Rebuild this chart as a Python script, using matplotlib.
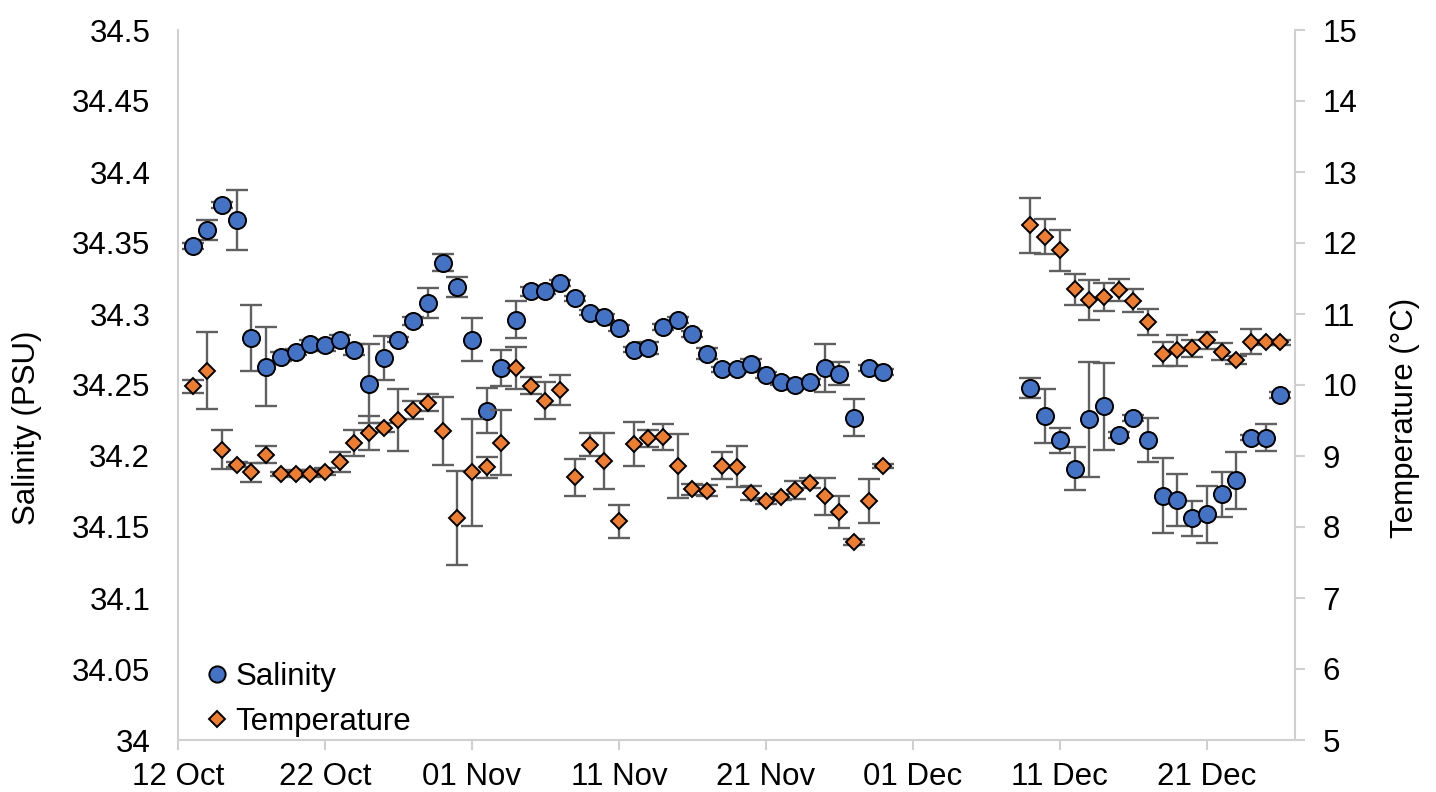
import numpy as np
import pandas as pd
import matplotlib
matplotlib.use("Agg")
import matplotlib.pyplot as plt
import matplotlib.dates as mdates
from matplotlib.ticker import FixedLocator, FuncFormatter

plt.rcParams['font.family'] = ['Liberation Sans', 'DejaVu Sans']

# Daily sampling: 13 Oct - 29 Nov and 9 Dec - 26 Dec
dates = list(pd.date_range("2019-10-13", "2019-11-29", freq="D")) + \
        list(pd.date_range("2019-12-09", "2019-12-26", freq="D"))

salinity = [
    34.348, 34.359, 34.377, 34.366, 34.283, 34.263, 34.270, 34.273, 34.279, 34.278,
    34.282, 34.275, 34.251, 34.269, 34.282, 34.295, 34.308, 34.336, 34.319,
    34.282, 34.232, 34.262, 34.296, 34.316, 34.316, 34.322, 34.311, 34.301, 34.298,
    34.290, 34.275, 34.276, 34.291, 34.296, 34.286, 34.272, 34.261, 34.261, 34.265,
    34.257, 34.252, 34.250, 34.252, 34.262, 34.258, 34.227, 34.262, 34.259,
    34.248, 34.228, 34.211, 34.191, 34.226, 34.235, 34.215, 34.227, 34.211,
    34.172, 34.169, 34.156, 34.159, 34.173, 34.183, 34.213, 34.213, 34.243,
]
salinity_err = [
    0.002, 0.007, 0.002, 0.021, 0.023, 0.0275, 0.003, 0.002, 0.003, 0.004,
    0.003, 0.004, 0.028, 0.0155, 0.002, 0.003, 0.0106, 0.006, 0.007,
    0.015, 0.016, 0.013, 0.013, 0.003, 0.002, 0.002, 0.002, 0.002, 0.002,
    0.002, 0.002, 0.004, 0.002, 0.002, 0.002, 0.004, 0.002, 0.002, 0.003,
    0.002, 0.002, 0.002, 0.002, 0.017, 0.008, 0.013, 0.002, 0.002,
    0.007, 0.019, 0.009, 0.015, 0.0405, 0.0305, 0.002, 0.002, 0.0155,
    0.0265, 0.018, 0.012, 0.020, 0.016, 0.020, 0.002, 0.0094, 0.002,
]
temperature = [
    9.98, 10.20, 9.09, 8.88, 8.77, 9.02, 8.75, 8.75, 8.75, 8.78,
    8.91, 9.18, 9.32, 9.40, 9.51, 9.65, 9.75, 9.35, 8.13,
    8.77, 8.84, 9.19, 10.24, 9.99, 9.78, 9.93, 8.70, 9.16, 8.93,
    8.08, 9.17, 9.25, 9.27, 8.86, 8.53, 8.51, 8.86, 8.85, 8.48,
    8.37, 8.42, 8.52, 8.62, 8.43, 8.21, 7.79, 8.37, 8.86,
    12.25, 12.09, 11.90, 11.35, 11.20, 11.24, 11.34, 11.19, 10.89,
    10.44, 10.49, 10.52, 10.63, 10.47, 10.35, 10.61, 10.60, 10.60,
]
temperature_err = [
    0.09, 0.545, 0.27, 0.03, 0.13, 0.12, 0.03, 0.05, 0.05, 0.05,
    0.14, 0.18, 0.24, 0.06, 0.44, 0.13, 0.12, 0.48, 0.66,
    0.75, 0.15, 0.46, 0.30, 0.12, 0.26, 0.21, 0.26, 0.16, 0.39,
    0.23, 0.31, 0.12, 0.18, 0.45, 0.08, 0.08, 0.19, 0.29, 0.10,
    0.04, 0.04, 0.13, 0.07, 0.26, 0.23, 0.04, 0.31, 0.03,
    0.39, 0.25, 0.29, 0.22, 0.28, 0.20, 0.16, 0.16, 0.18,
    0.17, 0.22, 0.12, 0.12, 0.12, 0.06, 0.18, 0.03, 0.03,
]

x_start = pd.Timestamp("2019-10-12")
x_end = pd.Timestamp("2019-12-27")

BLUE = "#4472C4"
ORANGE = "#ED7D31"
ERR = "#606060"
AXIS = "#d0d0d0"
FS = 22.5

fig = plt.figure(figsize=(14.36, 7.92), dpi=100)
W, H = 1436, 792
ax = fig.add_axes([178 / W, 52 / H, (1295 - 178) / W, (740 - 30) / H])
ax2 = ax.twinx()

# Salinity on the left axis
ax.errorbar(dates, salinity, yerr=salinity_err, fmt="none", ecolor=ERR,
            elinewidth=1.7, capsize=8, capthick=1.7, zorder=1)
ax.plot(dates, salinity, linestyle="none", marker="o", markersize=12.3,
        markerfacecolor=BLUE, markeredgecolor="black", markeredgewidth=1.4,
        zorder=3, label="Salinity")

# Temperature on the right axis
ax2.errorbar(dates, temperature, yerr=temperature_err, fmt="none", ecolor=ERR,
             elinewidth=1.7, capsize=8, capthick=1.7, zorder=1)
ax2.plot(dates, temperature, linestyle="none", marker="D", markersize=8.3,
         markerfacecolor=ORANGE, markeredgecolor="black", markeredgewidth=1.4,
         zorder=3, label="Temperature")

ax.set_xlim(x_start, x_end)
ax.set_ylim(34.0, 34.5)
ax2.set_ylim(5, 15)

# X ticks every 10 days from the start
xticks = pd.date_range(x_start, x_end, freq="10D")
ax.xaxis.set_major_locator(FixedLocator(mdates.date2num(xticks)))
ax.xaxis.set_major_formatter(mdates.DateFormatter("%d %b"))

ax.set_yticks(np.round(np.arange(34.0, 34.5001, 0.05), 2))
ax.yaxis.set_major_formatter(FuncFormatter(
    lambda v, p: f"{v:.2f}".rstrip("0").rstrip(".")))
ax2.set_yticks(np.arange(5, 16, 1))

for a in (ax, ax2):
    a.spines["top"].set_visible(False)
    for s in ("left", "right", "bottom"):
        a.spines[s].set_color(AXIS)
        a.spines[s].set_linewidth(1.5)
ax.spines["right"].set_visible(False)
ax2.spines["left"].set_visible(False)
ax2.spines["bottom"].set_visible(False)

ax.tick_params(axis="y", length=0, pad=20, labelsize=FS, labelcolor="black")
ax.tick_params(axis="x", length=7, width=1.5, color=AXIS, pad=9,
               labelsize=FS, labelcolor="black")
ax2.tick_params(axis="y", length=7, width=1.5, color=AXIS, pad=13,
                labelsize=FS, labelcolor="black")

ax.set_ylabel("Salinity (PSU)", fontsize=FS)
ax.yaxis.set_label_coords(-0.122, 0.44)
ax2.set_ylabel("Temperature (°C)", fontsize=FS)
ax2.yaxis.set_label_coords(1.085, 0.453)

handles = ax.get_lines()[-1:] + ax2.get_lines()[-1:]
ax2.legend(handles=handles, labels=["Salinity", "Temperature"],
           loc="lower left", bbox_to_anchor=(0.0233, 0.004), frameon=False,
           fontsize=FS, handlelength=0.8, handletextpad=0.2, borderpad=0,
           borderaxespad=0, labelspacing=0.5, markerscale=0.95)

fig.savefig("out.png", dpi=100, facecolor="white")
